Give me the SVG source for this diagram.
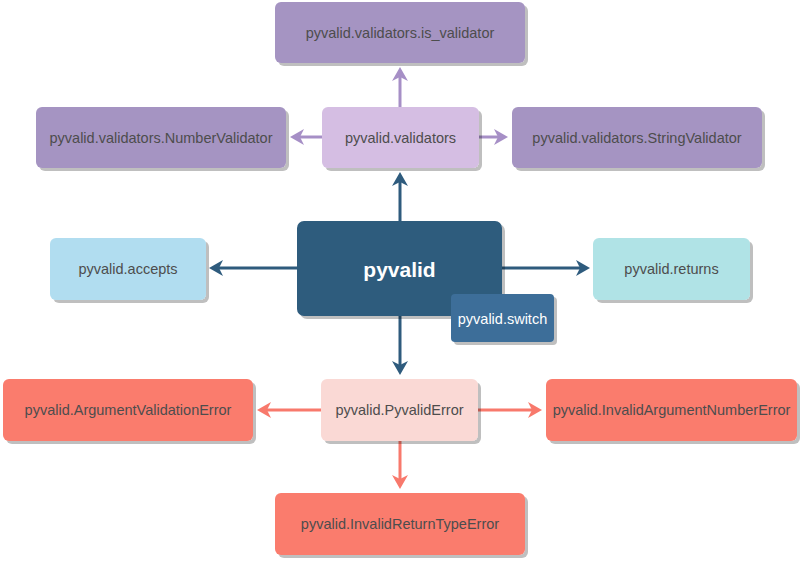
<svg xmlns="http://www.w3.org/2000/svg" width="801" height="561" viewBox="0 0 801 561">
<defs>
<filter id="sh" x="-10%" y="-10%" width="130%" height="140%">
<feGaussianBlur in="SourceAlpha" stdDeviation="0.6"/>
<feOffset dx="3" dy="3" result="o"/>
<feFlood flood-color="#000" flood-opacity="0.25"/>
<feComposite in2="o" operator="in"/>
<feMerge><feMergeNode/><feMergeNode in="SourceGraphic"/></feMerge>
</filter>
<marker id="aP" viewBox="0 0 14 16" markerWidth="14" markerHeight="16" refX="4" refY="8" orient="auto" markerUnits="userSpaceOnUse"><path d="M0,0 L14,8 L0,16 L4,8 Z" fill="#A68FC6"/></marker>
<marker id="aB" viewBox="0 0 14 16" markerWidth="14" markerHeight="16" refX="4" refY="8" orient="auto" markerUnits="userSpaceOnUse"><path d="M0,0 L14,8 L0,16 L4,8 Z" fill="#2E5B7D"/></marker>
<marker id="aR" viewBox="0 0 14 16" markerWidth="14" markerHeight="16" refX="4" refY="8" orient="auto" markerUnits="userSpaceOnUse"><path d="M0,0 L14,8 L0,16 L4,8 Z" fill="#F8796C"/></marker>
</defs>
<style>
.box{filter:url(#sh)}
.t{font-family:"Liberation Sans",Arial,sans-serif;font-size:14.5px;fill:#4D4D4D;text-anchor:middle;dominant-baseline:central}
.w{fill:#FFFFFF}
.b{font-weight:bold;font-size:21px}
.c{fill:none;stroke-width:3}
.cP{stroke:#A68FC6;marker-end:url(#aP)}
.cB{stroke:#2E5B7D;marker-end:url(#aB)}
.cR{stroke:#F8796C;marker-end:url(#aR)}
</style>
<rect width="801" height="561" fill="#FFFFFF"/>
<g id="connectors">
<line class="c cP" x1="400" y1="107" x2="400" y2="77"/>
<line class="c cP" x1="322" y1="137" x2="300" y2="137"/>
<line class="c cP" x1="479" y1="137" x2="498" y2="137"/>
<line class="c cB" x1="400" y1="221" x2="400" y2="182"/>
<line class="c cB" x1="297" y1="268" x2="219" y2="268"/>
<line class="c cB" x1="502" y1="268" x2="580" y2="268"/>
<line class="c cB" x1="400" y1="316" x2="400" y2="365"/>
<line class="c cR" x1="321" y1="410" x2="267" y2="410"/>
<line class="c cR" x1="478" y1="410" x2="532" y2="410"/>
<line class="c cR" x1="400" y1="441" x2="400" y2="479"/>
</g>
<g id="is_validator"><rect class="box" x="275" y="2" width="250" height="61" rx="6" fill="#A594C2"/><text class="t" x="400" y="33">pyvalid.validators.is_validator</text></g>
<g id="validators"><rect class="box" x="322" y="107" width="157" height="61" rx="6" fill="#D5BEE3"/><text class="t" x="400.5" y="137.5">pyvalid.validators</text></g>
<g id="NumberValidator"><rect class="box" x="36" y="107" width="250" height="61" rx="6" fill="#A594C2"/><text class="t" x="161" y="137.5">pyvalid.validators.NumberValidator</text></g>
<g id="StringValidator"><rect class="box" x="512" y="107" width="250" height="61" rx="6" fill="#A594C2"/><text class="t" x="637" y="137.5">pyvalid.validators.StringValidator</text></g>
<g id="accepts"><rect class="box" x="50" y="238" width="156" height="62" rx="6" fill="#B1DDF0"/><text class="t" x="128" y="269">pyvalid.accepts</text></g>
<g id="returns"><rect class="box" x="593" y="238" width="157" height="62" rx="6" fill="#B0E3E6"/><text class="t" x="671.5" y="269">pyvalid.returns</text></g>
<g id="pyvalid"><rect class="box" x="297" y="221" width="205" height="95" rx="7" fill="#2E5B7D"/><text class="t w b" x="399.5" y="269">pyvalid</text></g>
<g id="switch"><rect class="box" x="451" y="294" width="103" height="48" rx="4" fill="#3C6E99"/><text class="t w" x="502.5" y="319">pyvalid.switch</text></g>
<g id="ArgumentValidationError"><rect class="box" x="3" y="379" width="250" height="62" rx="6" fill="#FA7B6D"/><text class="t" x="128" y="410">pyvalid.ArgumentValidationError</text></g>
<g id="PyvalidError"><rect class="box" x="321" y="379" width="157" height="62" rx="6" fill="#FAD9D5"/><text class="t" x="399.5" y="410">pyvalid.PyvalidError</text></g>
<g id="InvalidArgumentNumberError"><rect class="box" x="546" y="379" width="251" height="62" rx="6" fill="#FA7B6D"/><text class="t" x="671.5" y="410">pyvalid.InvalidArgumentNumberError</text></g>
<g id="InvalidReturnTypeError"><rect class="box" x="275" y="493" width="250" height="62" rx="6" fill="#FA7B6D"/><text class="t" x="400" y="524">pyvalid.InvalidReturnTypeError</text></g>
</svg>
